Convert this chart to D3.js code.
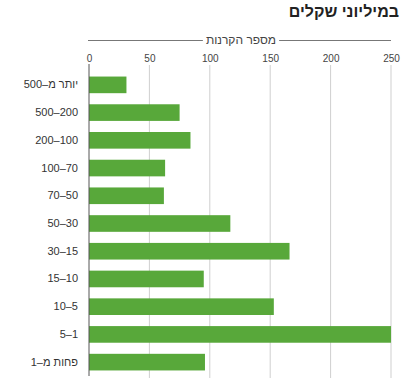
<!DOCTYPE html>
<html>
<head>
<meta charset="utf-8">
<script src="https://cdn.jsdelivr.net/npm/d3@7"></script>
<style>
  body { margin: 0; background: #fff; }
  svg { display: block; font-family: "Liberation Sans", "DejaVu Sans", sans-serif; }
</style>
</head>
<body>
<svg id="chart"></svg>
<script>
// fund size bands (millions of shekels) and number of funds
const categories = ["יותר מ–500", "500–200", "200–100", "100–70", "70–50", "50–30", "30–15", "15–10", "10–5", "5–1", "פחות מ–1"];
const values = [31, 75, 84, 63, 62, 117, 166, 95, 153, 250, 96];
const tickValues = [0, 50, 100, 150, 200, 250];
const titleText = "במיליוני שקלים";
const axisTitle = "מספר הקרנות";

const width = 401, height = 378;

const svg = d3.select('#chart')
    .attr('width', width)
    .attr('height', height);

const xScale = d3.scaleLinear()
    .domain([0, 250])
    .range([89, 391]);

const yScale = d3.scaleBand()
    .domain(categories)
    .range([71, 376])
    .paddingInner(0.4)
    .paddingOuter(0.2);

// title
svg.append('text')
    .attr('x', 399)
    .attr('y', 17)
    .attr('text-anchor', 'end')
    .style('font-size', '16px')
    .style('font-weight', 'bold')
    .attr('fill', '#222')
    .text(titleText);

// gridlines
svg.append('g')
    .selectAll('line')
    .data(tickValues.filter(d => d > 0))
    .join('line')
    .attr('x1', d => xScale(d))
    .attr('x2', d => xScale(d))
    .attr('y1', 65)
    .attr('y2', 378)
    .attr('stroke', '#cfcfcf')
    .attr('stroke-width', 1);

// bars
svg.append('g')
    .selectAll('rect')
    .data(categories)
    .join('rect')
    .attr('x', xScale(0))
    .attr('y', d => yScale(d))
    .attr('width', (d, i) => xScale(values[i]) - xScale(0))
    .attr('height', yScale.bandwidth())
    .attr('fill', '#58a83a');

// zero axis line
svg.append('line')
    .attr('x1', xScale(0))
    .attr('x2', xScale(0))
    .attr('y1', 64)
    .attr('y2', 376)
    .attr('stroke', '#555')
    .attr('stroke-width', 1);

// top axis tick labels
const xAxis = d3.axisTop(xScale)
    .tickValues(tickValues)
    .tickSize(0)
    .tickPadding(0);

svg.append('g')
    .attr('transform', 'translate(0,62)')
    .call(xAxis)
    .call(g => g.select('.domain').remove())
    .call(g => g.selectAll('text')
        .attr('fill', '#444')
        .style('font-size', '10px')
        .style('font-family', '"Liberation Sans", sans-serif'));

// axis title with rule broken around it
const midX = (xScale(0) + xScale(250)) / 2 + 1;
const axisLabel = svg.append('text')
    .attr('x', midX)
    .attr('y', 44)
    .attr('text-anchor', 'middle')
    .style('font-size', '12px')
    .attr('fill', '#444')
    .text(axisTitle);
const half = axisLabel.node().getComputedTextLength() / 2 + 3;

svg.append('g')
    .selectAll('line')
    .data([[xScale(0) - 1, midX - half], [midX + half, xScale(250)]])
    .join('line')
    .attr('x1', d => d[0])
    .attr('x2', d => d[1])
    .attr('y1', 40.5)
    .attr('y2', 40.5)
    .attr('stroke', '#777')
    .attr('stroke-width', 1);

// category labels
const yAxis = d3.axisLeft(yScale)
    .tickSize(0)
    .tickPadding(0);

svg.append('g')
    .attr('transform', 'translate(78,0)')
    .call(yAxis)
    .call(g => g.select('.domain').remove())
    .call(g => g.selectAll('text')
        .attr('fill', '#333')
        .style('font-size', '11px')
        .style('font-family', '"Liberation Sans", sans-serif'));
</script>
</body>
</html>
